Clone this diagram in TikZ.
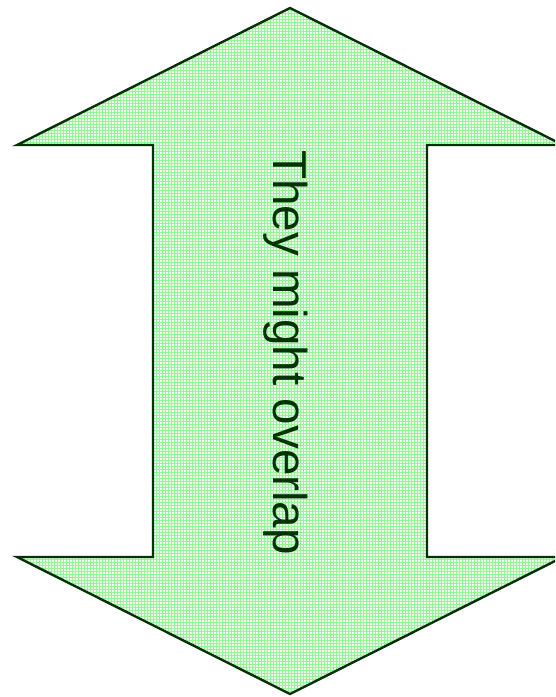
\documentclass[tikz,border=0pt]{standalone}
\usepackage{fontspec}
\setmainfont{Liberation Sans}
\usepackage{tikz}
\usetikzlibrary{
  patterns,%
  positioning
}
\definecolor{arrowline}{RGB}{6,48,6}
\definecolor{arrowtext}{RGB}{0,51,0}
\definecolor{gridbg}{RGB}{240,254,240}
\definecolor{gridln}{RGB}{150,245,150}
\tikzset{>=latex}
\tikzset{
  bigarrow/.style={draw=arrowline, line width=2.4pt, line join=miter,
    preaction={fill=gridbg}, pattern=grid, pattern color=gridln},
  arrowlabel/.style={text=arrowtext, inner sep=0pt, rotate=-90,
    font=\fontsize{47.6}{57}\selectfont}
}

\begin{document}
\begin{tikzpicture}[x=1pt, y=-1pt]
      \useasboundingbox (0, 0) rectangle (555, 697);
      \clip (0, 0) rectangle (555, 697);
      \filldraw[bigarrow] (290, 8) -- (563, 145) -- (427, 145) -- (427, 557) -- (563, 557) -- (290, 694) -- (17, 557) -- (153, 557) -- (153, 145) -- (17, 145) -- cycle; %
      \node[arrowlabel, anchor=base west] (lbl) at (273, 150) {They might overlap};
    \end{tikzpicture}
\end{document}
